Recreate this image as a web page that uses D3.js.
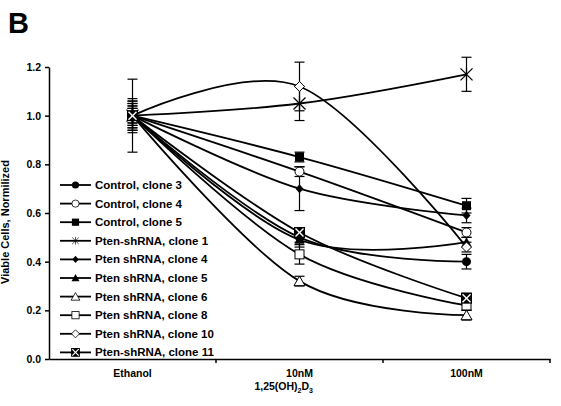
<!DOCTYPE html>
<html>
<head>
<meta charset="utf-8">
<script src="https://cdn.jsdelivr.net/npm/d3@7"></script>
<style>
  body { margin: 0; background: #fff; }
  svg { display: block; font-family: 'Liberation Sans', Arial, sans-serif; }
</style>
</head>
<body>
<svg id="chart" width="561" height="406"></svg>
<script>
"use strict";

const doses = ['Ethanol', '10nM', '100nM'];
const yTicks = [0.0, 0.2, 0.4, 0.6, 0.8, 1.0, 1.2];

const seriesNames = [
  'Control, clone 3', 'Control, clone 4', 'Control, clone 5',
  'Pten-shRNA, clone 1', 'Pten shRNA, clone 4', 'Pten shRNA, clone 5',
  'Pten shRNA, clone 6', 'Pten shRNA, clone 8', 'Pten shRNA, clone 10',
  'Pten-shRNA, clone 11'
];
const seriesMarkers = [
  'circleFill', 'circleOpen', 'squareFill', 'star', 'diamondSmall',
  'triangleFill', 'triangleOpen', 'squareOpen', 'diamondOpen', 'boxX'
];
const seriesValues = [
  [1.0, 0.50, 0.40],
  [1.0, 0.77, 0.52],
  [1.0, 0.83, 0.63],
  [1.0, 1.05, 1.17],
  [1.0, 0.70, 0.59],
  [1.0, 0.49, 0.48],
  [1.0, 0.32, 0.18],
  [1.0, 0.43, 0.22],
  [1.0, 1.12, 0.46],
  [1.0, 0.52, 0.25]
];
const seriesErrors = [
  [0.04, 0.02, 0.03],
  [0.06, 0.02, 0.02],
  [0.07, 0.02, 0.03],
  [0.15, 0.07, 0.07],
  [0.05, 0.09, 0.03],
  [0.04, 0.03, 0.02],
  [0.03, 0.02, 0.02],
  [0.03, 0.04, 0.02],
  [0.06, 0.10, 0.02],
  [0.05, 0.02, 0.02]
];

const svg = d3.select('#chart');
const margin = { left: 49, right: 11, top: 67, bottom: 47 };
const W = 561, H = 406;

const x = d3.scaleBand().domain(doses).range([margin.left, W - margin.right]);
const y = d3.scaleLinear().domain([0, 1.2]).range([H - margin.bottom, margin.top]);

// panel letter
svg.append('text').attr('x', 8).attr('y', 33)
  .attr('font-size', 29).attr('font-weight', 'bold').text('B');

// axes
const yAxis = svg.append('g').attr('transform', 'translate(' + margin.left + ',0)')
  .call(d3.axisLeft(y).tickValues(yTicks).tickFormat(d3.format('.1f')).tickSize(4).tickSizeOuter(0));
yAxis.select('.domain').attr('stroke-width', 1.5);
yAxis.selectAll('line').attr('stroke-width', 1.5);
yAxis.selectAll('text').attr('font-size', 10.5).attr('font-weight', 'bold').attr('dx', -1);

const xAxis = svg.append('g').attr('transform', 'translate(0,' + (H - margin.bottom) + ')')
  .call(d3.axisBottom(x).tickSize(0).tickSizeOuter(0));
xAxis.select('.domain').attr('stroke-width', 1.5);
xAxis.selectAll('text').attr('font-size', 10.5).attr('font-weight', 'bold').attr('dy', '1.45em');
// boundary ticks between bands
const bounds = doses.map(d => x(d)).concat([x(doses[doses.length - 1]) + x.bandwidth()]).slice(1);
xAxis.selectAll('.btick').data(bounds).enter().append('line')
  .attr('x1', d => d).attr('x2', d => d).attr('y1', 0).attr('y2', 4)
  .attr('stroke', '#000').attr('stroke-width', 1.5);

// axis titles
svg.append('text').attr('transform', 'translate(9,222) rotate(-90)')
  .attr('text-anchor', 'middle').attr('font-size', 11).attr('font-weight', 'bold')
  .text('Viable Cells, Normilized');

const xt = svg.append('text').attr('x', 313).attr('y', 390).attr('text-anchor', 'end')
  .attr('font-size', 10.5).attr('font-weight', 'bold');
xt.append('tspan').text('1,25(OH)');
xt.append('tspan').attr('font-size', 7).attr('dy', 2.5).text('2');
xt.append('tspan').attr('dy', -2.5).text('D');
xt.append('tspan').attr('font-size', 7).attr('dy', 2.5).text('3');

const cx = d => x(d) + x.bandwidth() / 2;

// error bars
const errG = svg.append('g').attr('stroke', '#000').attr('stroke-width', 1.2);
seriesValues.forEach((vals, s) => {
  vals.forEach((v, i) => {
    const e = seriesErrors[s][i];
    const px = cx(doses[i]);
    errG.append('line').attr('x1', px).attr('x2', px).attr('y1', y(v - e)).attr('y2', y(v + e));
    [v - e, v + e].forEach(t => errG.append('line')
      .attr('x1', px - 5).attr('x2', px + 5).attr('y1', y(t)).attr('y2', y(t)));
  });
});

// smooth lines
const line = d3.line().x((d, i) => cx(doses[i])).y(d => y(d)).curve(d3.curveCardinal.tension(0));
svg.append('g').selectAll('path').data(seriesValues).enter().append('path')
  .attr('d', line).attr('fill', 'none').attr('stroke', '#000').attr('stroke-width', 1.8);

function marker(g, type, px, py, k) {
  const m = g.append('g').attr('transform', 'translate(' + px + ',' + py + ') scale(' + (k || 1) + ')');
  const black = '#000', white = '#fff';
  switch (type) {
    case 'circleFill':
      m.append('circle').attr('r', 4.5).attr('fill', black); break;
    case 'circleOpen':
      m.append('circle').attr('r', 4.5).attr('fill', white).attr('stroke', black).attr('stroke-width', 1); break;
    case 'squareFill':
      m.append('rect').attr('x', -4.5).attr('y', -4.5).attr('width', 9).attr('height', 9).attr('fill', black); break;
    case 'squareOpen':
      m.append('rect').attr('x', -4.5).attr('y', -4.5).attr('width', 9).attr('height', 9)
        .attr('fill', white).attr('stroke', black).attr('stroke-width', 1); break;
    case 'star':
      [[-6, -6, 6, 6], [-6, 6, 6, -6], [0, -7, 0, 7]].forEach(p => m.append('line')
        .attr('x1', p[0]).attr('y1', p[1]).attr('x2', p[2]).attr('y2', p[3])
        .attr('stroke', black).attr('stroke-width', 1.2)); break;
    case 'diamondSmall':
      m.append('path').attr('d', 'M0,-4.5L4,0L0,4.5L-4,0Z').attr('fill', black); break;
    case 'diamondOpen':
      m.append('path').attr('d', 'M0,-5L5,0L0,5L-5,0Z').attr('fill', white).attr('stroke', black).attr('stroke-width', 1); break;
    case 'triangleFill':
      m.append('path').attr('d', 'M0,-5L5,4L-5,4Z').attr('fill', black); break;
    case 'triangleOpen':
      m.append('path').attr('d', 'M0,-5L5.5,4.5L-5.5,4.5Z').attr('fill', white).attr('stroke', black).attr('stroke-width', 1); break;
    case 'boxX':
      m.append('rect').attr('x', -5.5).attr('y', -5.5).attr('width', 11).attr('height', 11).attr('fill', black);
      [[-4, -4, 4, 4], [-4, 4, 4, -4]].forEach(p => m.append('line')
        .attr('x1', p[0]).attr('y1', p[1]).attr('x2', p[2]).attr('y2', p[3])
        .attr('stroke', white).attr('stroke-width', 1.5)); break;
  }
}

// markers
const mG = svg.append('g');
seriesValues.forEach((vals, s) => {
  vals.forEach((v, i) => marker(mG, seriesMarkers[s], cx(doses[i]), y(v)));
});

// legend
const lg = svg.append('g').attr('transform', 'translate(60,185)');
seriesNames.forEach((name, i) => {
  const ly = i * 18.6;
  lg.append('line').attr('x1', 0).attr('x2', 31).attr('y1', ly).attr('y2', ly)
    .attr('stroke', '#000').attr('stroke-width', 1.8);
  marker(lg, seriesMarkers[i], 15.5, ly, seriesMarkers[i] === 'star' ? 0.55 : 0.8);
  lg.append('text').attr('x', 35).attr('y', ly + 4)
    .attr('font-size', 11.5).attr('font-weight', 'bold').text(name);
});
</script>
</body>
</html>
